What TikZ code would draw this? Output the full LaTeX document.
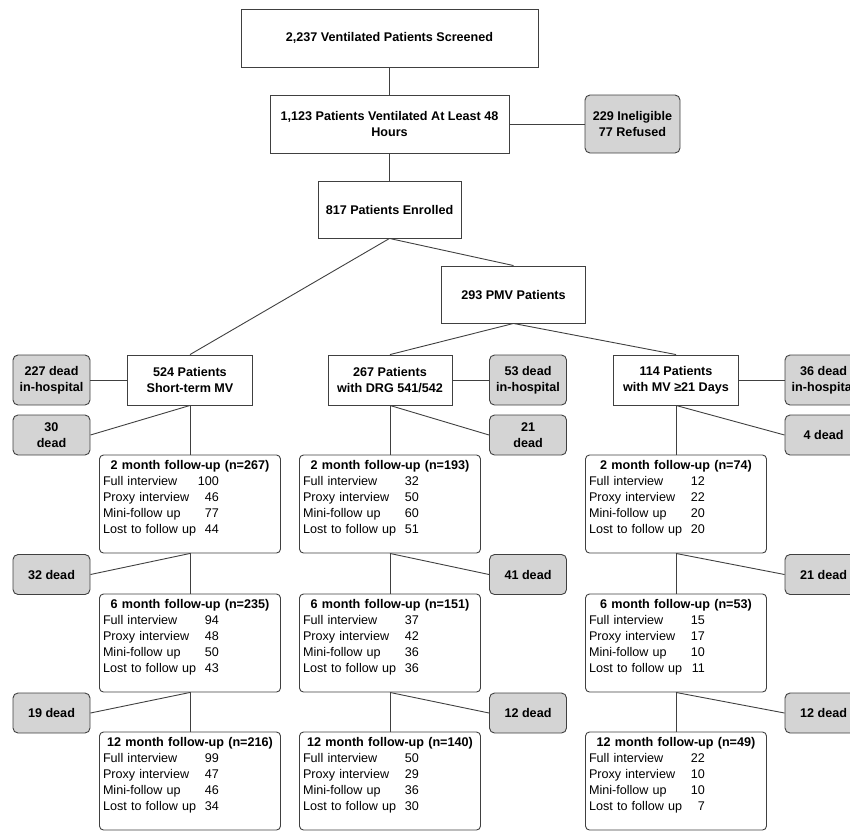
\documentclass[tikz,border=0pt]{standalone}
\usepackage{fontspec}
\setmainfont{Liberation Sans}
\usetikzlibrary{positioning}

\newcommand{\furow}[2]{\makebox[96pt][l]{#1}\makebox[20pt][r]{#2}}
\newcommand{\fuhead}[1]{\makebox[174pt][c]{\bfseries #1}}

\begin{document}
\begin{tikzpicture}[
    x=1pt, y=-1pt,
    every node/.style={font=\fontsize{12.6}{16}\selectfont},
    block/.style={rectangle, draw=black!75, fill=white, line width=0.9pt,
                  align=center, inner sep=0pt,
                  font=\fontsize{12.6}{15.5}\selectfont\bfseries},
    cohort/.style={block, minimum width=125pt, minimum height=50pt},
    deadbox/.style={block, fill=black!17, rounded corners=5pt, minimum width=77pt},
    hosp/.style={deadbox, minimum height=50pt},
    died/.style={deadbox, minimum height=40pt},
    fubox/.style={rectangle, draw=black!75, fill=white, line width=0.9pt,
                  rounded corners=4pt, align=left, text width=174pt,
                  inner xsep=3.5pt, inner ysep=4pt, text height=10pt, text depth=80pt},
    link/.style={draw=black!75, line width=0.9pt},
]
\useasboundingbox (0,0) rectangle (850,831);
\clip (0,0) rectangle (850,831);

% screening and enrolment
\node[block, minimum width=297pt, minimum height=58pt] (screened) at (389.5,38) {2,237 Ventilated Patients Screened};
\node[block, minimum width=239pt, minimum height=58pt] (atleast48) at (389.5,124) {1,123 Patients Ventilated At Least 48\\Hours};
\node[deadbox, minimum width=95pt, minimum height=58pt] (excluded) at (632.5,124) {229 Ineligible\\77 Refused};
\node[block, minimum width=143pt, minimum height=57pt] (enrolled) at (389.5,209.5) {817 Patients Enrolled};
\node[block, minimum width=144pt, minimum height=57pt] (pmv) at (513.5,294.5) {293 PMV Patients};

% cohorts
\node[cohort] (shortmv) at (190,380) {524 Patients\\Short-term MV};
\node[cohort, minimum width=124pt] (drg) at (390,380) {267 Patients\\with DRG 541/542};
\node[cohort] (mv21) at (676,380) {114 Patients\\with MV ≥21 Days};
\node[hosp] (hospA) at (51.5,380) {227 dead\\in-hospital};
\node[hosp] (hospB) at (528,380) {53 dead\\in-hospital};
\node[hosp] (hospC) at (823.5,380) {36 dead\\in-hospital};
\node[died] (deadA1) at (51.5,435) {30\\dead};
\node[died] (deadB1) at (528,435) {21\\dead};
\node[died] (deadC1) at (823.5,435) {4 dead};

% 2 month
\node[fubox] (twoA) at (190,504) {\fuhead{2 month follow-up (n=267)}\\\furow{Full interview}{100}\\\furow{Proxy interview}{46}\\\furow{Mini-follow up}{77}\\\furow{Lost to follow up}{44}};
\node[fubox] (twoB) at (390,504) {\fuhead{2 month follow-up (n=193)}\\\furow{Full interview}{32}\\\furow{Proxy interview}{50}\\\furow{Mini-follow up}{60}\\\furow{Lost to follow up}{51}};
\node[fubox] (twoC) at (676,504) {\fuhead{2 month follow-up (n=74)}\\\furow{Full interview}{12}\\\furow{Proxy interview}{22}\\\furow{Mini-follow up}{20}\\\furow{Lost to follow up}{20}};
\node[died] (deadA2) at (51.5,574.5) {32 dead};
\node[died] (deadB2) at (528,574.5) {41 dead};
\node[died] (deadC2) at (823.5,574.5) {21 dead};

% 6 month
\node[fubox] (sixA) at (190,643) {\fuhead{6 month follow-up (n=235)}\\\furow{Full interview}{94}\\\furow{Proxy interview}{48}\\\furow{Mini-follow up}{50}\\\furow{Lost to follow up}{43}};
\node[fubox] (sixB) at (390,643) {\fuhead{6 month follow-up (n=151)}\\\furow{Full interview}{37}\\\furow{Proxy interview}{42}\\\furow{Mini-follow up}{36}\\\furow{Lost to follow up}{36}};
\node[fubox] (sixC) at (676,643) {\fuhead{6 month follow-up (n=53)}\\\furow{Full interview}{15}\\\furow{Proxy interview}{17}\\\furow{Mini-follow up}{10}\\\furow{Lost to follow up}{11}};
\node[died] (deadA3) at (51.5,713) {19 dead};
\node[died] (deadB3) at (528,713) {12 dead};
\node[died] (deadC3) at (823.5,713) {12 dead};

% 12 month
\node[fubox] (twelveA) at (190,781) {\fuhead{12 month follow-up (n=216)}\\\furow{Full interview}{99}\\\furow{Proxy interview}{47}\\\furow{Mini-follow up}{46}\\\furow{Lost to follow up}{34}};
\node[fubox] (twelveB) at (390,781) {\fuhead{12 month follow-up (n=140)}\\\furow{Full interview}{50}\\\furow{Proxy interview}{29}\\\furow{Mini-follow up}{36}\\\furow{Lost to follow up}{30}};
\node[fubox] (twelveC) at (676,781) {\fuhead{12 month follow-up (n=49)}\\\furow{Full interview}{22}\\\furow{Proxy interview}{10}\\\furow{Mini-follow up}{10}\\\furow{Lost to follow up}{7}};

% connectors
\draw[link] (screened) -- (atleast48);
\draw[link] (atleast48) -- (excluded);
\draw[link] (atleast48) -- (enrolled);
\draw[link] (enrolled.south) -- (shortmv.north);
\draw[link] (enrolled.south) -- (pmv.north);
\draw[link] (pmv.south) -- (drg.north);
\draw[link] (pmv.south) -- (mv21.north);
\draw[link] (shortmv) -- (hospA);
\draw[link] (drg) -- (hospB);
\draw[link] (mv21) -- (hospC);
\draw[link] (shortmv.south) -- (deadA1.east);
\draw[link] (drg.south) -- (deadB1.west);
\draw[link] (mv21.south) -- (deadC1.west);
\draw[link] (shortmv) -- (twoA);
\draw[link] (drg) -- (twoB);
\draw[link] (mv21) -- (twoC);
\draw[link] (twoA.south) -- (deadA2.east);
\draw[link] (twoB.south) -- (deadB2.west);
\draw[link] (twoC.south) -- (deadC2.west);
\draw[link] (twoA) -- (sixA);
\draw[link] (twoB) -- (sixB);
\draw[link] (twoC) -- (sixC);
\draw[link] (sixA.south) -- (deadA3.east);
\draw[link] (sixB.south) -- (deadB3.west);
\draw[link] (sixC.south) -- (deadC3.west);
\draw[link] (sixA) -- (twelveA);
\draw[link] (sixB) -- (twelveB);
\draw[link] (sixC) -- (twelveC);
\end{tikzpicture}
\end{document}
